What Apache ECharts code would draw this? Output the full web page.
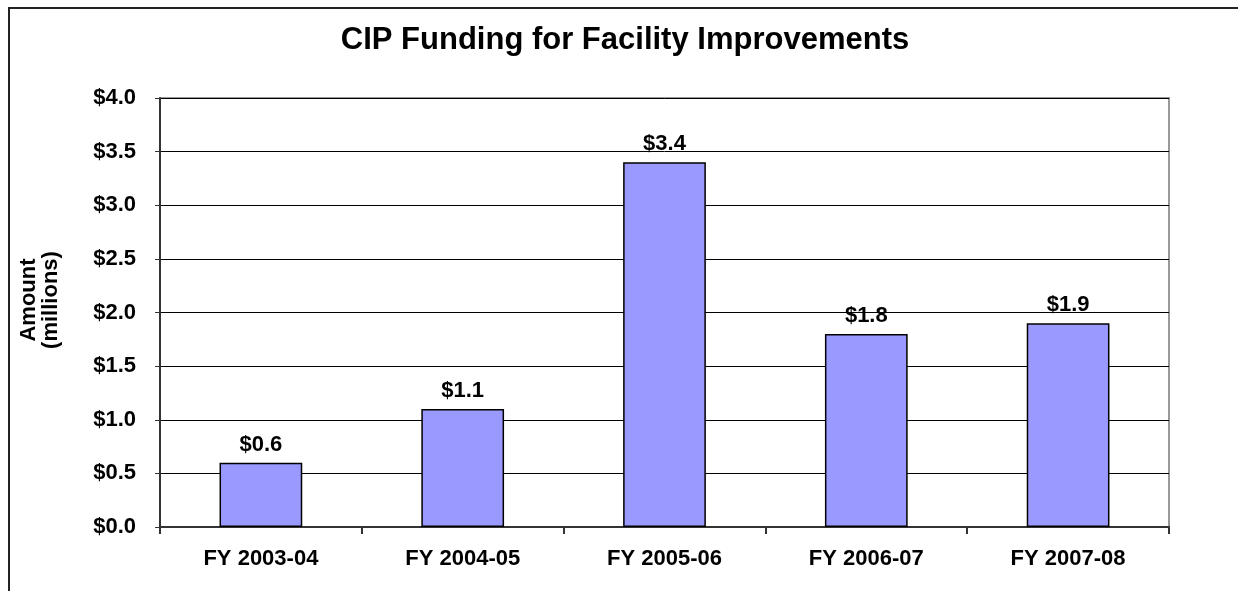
<!DOCTYPE html>
<html>
<head>
<meta charset="utf-8">
<script src="https://cdn.jsdelivr.net/npm/echarts@6/dist/echarts.min.js"></script>
<style>
html,body{margin:0;padding:0;background:#fff;}
#chart{width:1238px;height:591px;}
</style>
</head>
<body>
<div id="chart"></div>
<script>
const categories = ['FY 2003-04', 'FY 2004-05', 'FY 2005-06', 'FY 2006-07', 'FY 2007-08'];
const amounts = [0.6, 1.1, 3.4, 1.8, 1.9];
const yTicks = { min: 0, max: 4, interval: 0.5 };
const titleText = 'CIP Funding for Facility Improvements';
const axisNameLines = ['Amount', '(millions)'];

const FONT = '"Liberation Sans", Arial, sans-serif';
const chart = echarts.init(document.getElementById('chart'), null, { renderer: 'canvas' });
chart.setOption({
  animation: false,
  backgroundColor: '#ffffff',
  title: {
    text: titleText,
    left: 620, top: 20, textAlign: 'center',
    textStyle: { fontFamily: FONT, fontWeight: 'bold', fontSize: 31, color: '#000' }
  },
  graphic: [
    { type: 'rect', shape: { x: 9, y: 8, width: 1400, height: 800 },
      style: { fill: null, stroke: '#222', lineWidth: 2 }, silent: true },
    { type: 'text', x: 40, y: 300, rotation: Math.PI / 2,
      style: { text: axisNameLines.join('\n'), fontFamily: FONT, fontWeight: 'bold', fontSize: 22,
        fill: '#000', align: 'center', verticalAlign: 'middle', lineHeight: 22 } }
  ],
  grid: { left: 160, right: 69, top: 98, bottom: 64, show: true, borderColor: '#999', borderWidth: 2, backgroundColor: '#fff' },
  xAxis: {
    type: 'category', data: categories,
    axisLine: { lineStyle: { color: '#333', width: 2 } },
    axisTick: { show: true, length: 7, lineStyle: { color: '#333', width: 2 } },
    axisLabel: { fontFamily: FONT, fontWeight: 'bold', fontSize: 22, color: '#000', margin: 21 },
    splitLine: { show: false }
  },
  yAxis: {
    type: 'value', min: yTicks.min, max: yTicks.max, interval: yTicks.interval,
    axisLine: { show: true, lineStyle: { color: '#333', width: 2 } },
    axisTick: { show: true, length: 5, lineStyle: { color: '#333', width: 1 } },
    axisLabel: { fontFamily: FONT, fontWeight: 'bold', fontSize: 22, color: '#000', margin: 24,
      formatter: v => '$' + v.toFixed(1) },
    splitLine: { show: true, lineStyle: { color: '#000', width: 1 } }
  },
  series: [{
    type: 'bar', data: amounts, barWidth: '41%',
    itemStyle: { color: '#9999FF', borderColor: '#000', borderWidth: 1.5 },
    label: { show: true, position: 'top', distance: 7, fontFamily: FONT, fontWeight: 'bold', fontSize: 22, color: '#000',
      formatter: p => '$' + p.value.toFixed(1) }
  }]
});
</script>
</body>
</html>
